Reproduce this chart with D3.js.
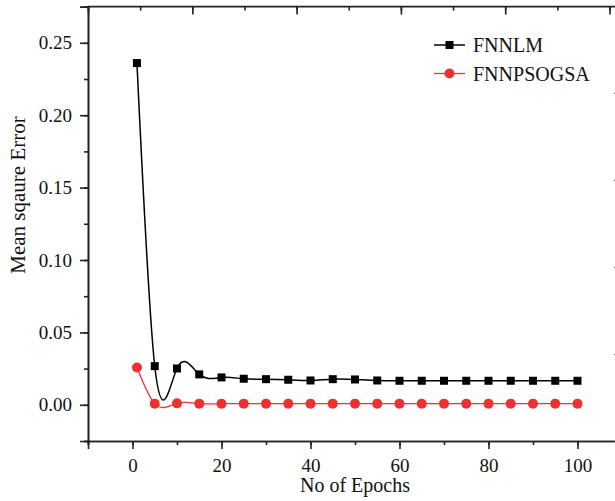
<!DOCTYPE html>
<html>
<head>
<meta charset="utf-8">
<script src="https://cdn.jsdelivr.net/npm/d3@7"></script>
<style>
  body { margin: 0; background: #fff; }
  svg { display: block; font-family: "Liberation Serif", "DejaVu Serif", serif; }
</style>
</head>
<body>
<svg id="chart" width="615" height="501"></svg>
<script>
// data
var epochs = [1, 5, 10, 15, 20, 25, 30, 35, 40, 45, 50, 55, 60, 65, 70, 75, 80, 85, 90, 95, 100];
var fnnlm = [0.236, 0.0267, 0.0251, 0.0210, 0.0189, 0.0180, 0.0177, 0.0173, 0.0168, 0.0177, 0.0175,
             0.0168, 0.0166, 0.0166, 0.0166, 0.0166, 0.0166, 0.0166, 0.0166, 0.0166, 0.0166];
var fnnpsogsa = [0.0258, 0.0008, 0.0010, 0.0008, 0.0008, 0.0008, 0.0008, 0.0008, 0.0008, 0.0008, 0.0008,
                 0.0008, 0.0008, 0.0008, 0.0008, 0.0008, 0.0008, 0.0008, 0.0008, 0.0008, 0.0008];
var seriesNames = ["FNNLM", "FNNPSOGSA"];
var xTicks = [0, 20, 40, 60, 80, 100];
var yTicks = [0.00, 0.05, 0.10, 0.15, 0.20, 0.25];

var svg = d3.select("#chart");
var axisColor = "#222";
var red = "#ee3030";

var xScale = d3.scaleLinear().domain([-10, 110]).range([88, 622]);
var yScale = d3.scaleLinear().domain([-0.025, 0.275]).range([441, 6.6]);
// top and right frame axes carry their own (unlabelled) ticks
var topScale = d3.scaleLinear().domain([0, 5]).range([88, 609.5]);
var rightScale = d3.scaleLinear().domain([0, 5]).range([441, 5.7]);

// bottom axis
var gx = svg.append("g").attr("transform", "translate(0,441)");
gx.call(d3.axisBottom(xScale).tickValues(d3.range(-10, 111, 10)).tickSize(4).tickFormat(""));
gx.append("g").call(d3.axisBottom(xScale).tickValues(xTicks).tickSize(8).tickFormat(d3.format("d")));
gx.selectAll("path").attr("stroke", axisColor).attr("stroke-width", 1.6);
gx.selectAll("line").attr("stroke", axisColor).attr("stroke-width", 1.6);
gx.selectAll("text").attr("fill", "#111").attr("font-size", 19).attr("dy", "1.05em")
  .attr("font-family", "Liberation Serif");

// left axis
var gy = svg.append("g").attr("transform", "translate(88,0)");
gy.call(d3.axisLeft(yScale).tickValues(d3.range(-0.025, 0.276, 0.025)).tickSize(4).tickFormat(""));
gy.append("g").call(d3.axisLeft(yScale).tickValues(yTicks).tickSize(8).tickFormat(d3.format(".2f")));
gy.selectAll("path").attr("stroke", axisColor).attr("stroke-width", 1.6);
gy.selectAll("line").attr("stroke", axisColor).attr("stroke-width", 1.6);
gy.selectAll("text").attr("fill", "#111").attr("font-size", 19).attr("x", -16)
  .attr("font-family", "Liberation Serif");

// top axis (ticks inward)
var gt = svg.append("g").attr("transform", "translate(0,6.6)");
gt.call(d3.axisTop(topScale).tickValues(d3.range(0, 5.01, 0.5)).tickSize(-4).tickFormat(""));
gt.append("g").call(d3.axisTop(topScale).tickValues(d3.range(0, 5.01, 1)).tickSize(-8).tickFormat(""));
gt.selectAll("path").remove();
gt.selectAll("line").attr("stroke", axisColor).attr("stroke-width", 1.6);
svg.append("line").attr("x1", 88).attr("x2", 615).attr("y1", 6.6).attr("y2", 6.6)
  .attr("stroke", axisColor).attr("stroke-width", 1.6);

// right axis (off canvas, only tick tips show)
var gr = svg.append("g").attr("transform", "translate(622,0)");
gr.call(d3.axisRight(rightScale).tickValues(d3.range(0, 5.01, 1)).tickSize(-8).tickFormat(""));
gr.selectAll("path").remove();
gr.selectAll("line").attr("stroke", "#555").attr("stroke-width", 1);

// axis titles
svg.append("text").attr("x", 355).attr("y", 492).attr("text-anchor", "middle")
  .attr("font-size", 20).attr("fill", "#111").text("No of Epochs");
svg.append("text").attr("transform", "translate(25,195) rotate(-90)").attr("text-anchor", "middle")
  .attr("font-size", 21).attr("fill", "#111").text("Mean sqaure Error");

// natural cubic spline in x (like Origin's spline connector), drawn as beziers
function splinePath(pts) {
    var n = pts.length - 1;
    var h = [], M = new Array(n + 1).fill(0);
    for (var i = 0; i < n; i++) h.push(pts[i + 1][0] - pts[i][0]);
    // tridiagonal solve for second derivatives
    var a = [], b = [], c = [], r = [];
    for (var i = 1; i < n; i++) {
        a.push(h[i - 1]);
        b.push(2 * (h[i - 1] + h[i]));
        c.push(h[i]);
        r.push(6 * ((pts[i + 1][1] - pts[i][1]) / h[i] - (pts[i][1] - pts[i - 1][1]) / h[i - 1]));
    }
    var m = b.length;
    for (var i = 1; i < m; i++) {
        var w = a[i] / b[i - 1];
        b[i] -= w * c[i - 1];
        r[i] -= w * r[i - 1];
    }
    for (var i = m - 1; i >= 0; i--) {
        M[i + 1] = (r[i] - (i < m - 1 ? c[i] * M[i + 2] : 0)) / b[i];
    }
    var slope = [];
    for (var i = 0; i < n; i++) {
        slope.push((pts[i + 1][1] - pts[i][1]) / h[i] - h[i] * (2 * M[i] + M[i + 1]) / 6);
    }
    slope.push((pts[n][1] - pts[n - 1][1]) / h[n - 1] + h[n - 1] * (M[n - 1] + 2 * M[n]) / 6);

    var p = d3.path();
    p.moveTo(pts[0][0], pts[0][1]);
    for (var i = 0; i < n; i++) {
        var t = h[i] / 3;
        p.bezierCurveTo(pts[i][0] + t, pts[i][1] + slope[i] * t,
                        pts[i + 1][0] - t, pts[i + 1][1] - slope[i + 1] * t,
                        pts[i + 1][0], pts[i + 1][1]);
    }
    return p.toString();
}

var blackData = epochs.map(function(e, i) { return [e, fnnlm[i]]; });
var redData = epochs.map(function(e, i) { return [e, fnnpsogsa[i]]; });
function toPx(d) { return [xScale(d[0]), yScale(d[1])]; }

svg.append("path").attr("d", splinePath(redData.map(toPx)))
  .attr("fill", "none").attr("stroke", red).attr("stroke-width", 1.3);
svg.append("path").attr("d", splinePath(blackData.map(toPx)))
  .attr("fill", "none").attr("stroke", "#000").attr("stroke-width", 1.5);

svg.append("g").selectAll("rect").data(blackData).enter().append("rect")
  .attr("x", function(d) { return xScale(d[0]) - 4; })
  .attr("y", function(d) { return yScale(d[1]) - 4; })
  .attr("width", 8).attr("height", 8).attr("fill", "#000");

svg.append("g").selectAll("circle").data(redData).enter().append("circle")
  .attr("cx", function(d) { return xScale(d[0]); })
  .attr("cy", function(d) { return yScale(d[1]); })
  .attr("r", 5).attr("fill", red);

// legend
var legend = svg.append("g");
var legendRows = legend.selectAll("g").data(seriesNames).enter().append("g")
  .attr("transform", function(d, i) { return "translate(434," + (45 + i * 28.5) + ")"; });
legendRows.append("line").attr("x1", 0).attr("x2", 31).attr("y1", 0).attr("y2", 0)
  .attr("stroke", function(d, i) { return i == 0 ? "#000" : red; })
  .attr("stroke-width", function(d, i) { return i == 0 ? 1.5 : 1.3; });
legendRows.filter(function(d, i) { return i == 0; }).append("rect")
  .attr("x", 11.5).attr("y", -4).attr("width", 8).attr("height", 8).attr("fill", "#000");
legendRows.filter(function(d, i) { return i == 1; }).append("circle")
  .attr("cx", 15.5).attr("cy", 0).attr("r", 5).attr("fill", red);
legendRows.append("text").attr("x", 39).attr("y", 7).attr("font-size", 20).attr("fill", "#111")
  .text(function(d) { return d; });
</script>
</body>
</html>
